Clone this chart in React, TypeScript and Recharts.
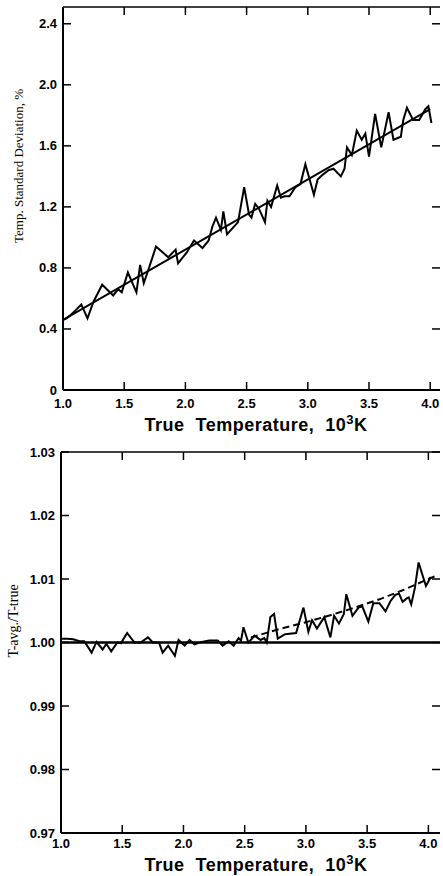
import React from 'react';
import { LineChart, Line, XAxis, YAxis } from 'recharts';

// top panel: temperature standard deviation (%) vs true temperature (10^3 K)
const TOP_TEMPS = [
  1.0, 1.03, 1.06, 1.1, 1.15, 1.2, 1.25, 1.32, 1.41, 1.45, 1.48, 1.53, 1.6, 1.63, 1.66, 1.69,
  1.76, 1.86, 1.92, 1.94, 1.98, 2.01, 2.07, 2.14, 2.19, 2.22, 2.25, 2.29, 2.31, 2.34, 2.43, 2.48,
  2.52, 2.54, 2.57, 2.6, 2.65, 2.67, 2.7, 2.75, 2.78, 2.81, 2.85, 2.9, 2.94, 2.98, 3.05, 3.08,
  3.12, 3.17, 3.21, 3.27, 3.3, 3.32, 3.36, 3.4, 3.44, 3.47, 3.5, 3.55, 3.6, 3.66, 3.7, 3.76,
  3.78, 3.81, 3.86, 3.91, 3.96, 3.985, 4.01,
];
const TOP_SD = [
  0.46, 0.47, 0.49, 0.52, 0.56, 0.47, 0.58, 0.69, 0.62, 0.66, 0.64, 0.77, 0.64, 0.82, 0.7, 0.77,
  0.94, 0.87, 0.92, 0.83, 0.87, 0.9, 0.98, 0.93, 0.98, 1.07, 1.13, 1.05, 1.17, 1.02, 1.1, 1.33,
  1.15, 1.13, 1.22, 1.19, 1.1, 1.24, 1.2, 1.34, 1.26, 1.27, 1.27, 1.33, 1.35, 1.48, 1.28, 1.38,
  1.41, 1.44, 1.45, 1.4, 1.45, 1.59, 1.54, 1.7, 1.64, 1.68, 1.53, 1.81, 1.59, 1.82, 1.64, 1.66,
  1.77, 1.85, 1.77, 1.77, 1.84, 1.86, 1.75,
];
const TOP_FIT_TEMPS = [1.0, 4.0];
const TOP_FIT_SD = [0.46, 1.84];
const X_TICKS = [1.0, 1.5, 2.0, 2.5, 3.0, 3.5, 4.0];
const TOP_Y_TICKS = [0, 0.4, 0.8, 1.2, 1.6, 2.0, 2.4];

// bottom panel: T-avg / T-true
const BOT_TEMPS = [
  1.0, 1.05, 1.1, 1.15, 1.19, 1.25, 1.29, 1.34, 1.37, 1.41, 1.46, 1.49, 1.54, 1.6, 1.65, 1.71,
  1.75, 1.8, 1.83, 1.875, 1.93, 1.96, 2.01, 2.05, 2.09, 2.13, 2.21, 2.28, 2.32, 2.37, 2.41, 2.45,
  2.47, 2.49, 2.53, 2.56, 2.58, 2.63, 2.66, 2.68, 2.71, 2.74, 2.77, 2.83, 2.92, 2.98, 3.02, 3.05,
  3.09, 3.15, 3.2, 3.23, 3.27, 3.31, 3.33, 3.38, 3.43, 3.46, 3.51, 3.55, 3.6, 3.65, 3.69, 3.73,
  3.76, 3.79, 3.82, 3.84, 3.86, 3.89, 3.92, 3.98, 4.02,
];
const BOT_RATIO = [
  1.0006, 1.0006, 1.0005, 1.0002, 1.0002, 0.9984, 1.0001, 0.9989, 0.9998, 0.9986, 1.0, 0.9999,
  1.0015, 1.0, 1.0, 1.0008, 1.0, 1.0, 0.9984, 0.9995, 0.9979, 1.0004, 0.9995, 1.0004, 0.9997,
  1.0, 1.0003, 1.0003, 0.9995, 1.0002, 0.9995, 1.0007, 1.0003, 1.0024, 1.0, 1.0006, 1.0011,
  1.0004, 1.0007, 1.0, 1.004, 1.0045, 1.0006, 1.0013, 1.0015, 1.0055, 1.0017, 1.0035, 1.0022,
  1.004, 1.0008, 1.0042, 1.003, 1.0045, 1.0076, 1.0042, 1.0055, 1.0057, 1.0033, 1.0062, 1.0062,
  1.0049, 1.0065, 1.0075, 1.0077, 1.0064, 1.0069, 1.0071, 1.006, 1.0086, 1.0126, 1.0089, 1.0103,
];
const BOT_UNITY_TEMPS = [1.0, 4.095];
const BOT_UNITY = [1.0, 1.0];
const BOT_FIT_TEMPS = [2.55, 2.8, 3.0, 3.2, 3.4, 3.6, 3.8, 4.0, 4.05];
const BOT_FIT_RATIO = [1.0008, 1.0022, 1.0032, 1.0043, 1.0055, 1.0068, 1.0083, 1.01, 1.0104];
const BOT_Y_TICKS = [0.97, 0.98, 0.99, 1.0, 1.01, 1.02, 1.03];

const zip = (xs: number[], ys: number[]) => xs.map((x, i) => ({ x, y: ys[i] }));

const SANS = '"Liberation Sans", Arial, sans-serif';
const SERIF = '"Liberation Serif", "Times New Roman", serif';

const BottomTick = ({ x, y, payload, fmt, dy }: any) => (
  <g>
    <line x1={x} y1={y} x2={x} y2={y - 8} stroke="#000" strokeWidth={1.5} />
    <text x={x} y={y + dy} textAnchor="middle" fontFamily={SANS} fontWeight="bold" fontSize={13} fill="#000">
      {fmt(payload.value)}
    </text>
  </g>
);
const TopTick = ({ x, y }: any) => (
  <line x1={x} y1={y} x2={x} y2={y + 8} stroke="#000" strokeWidth={1.5} />
);
const LeftTick = ({ x, y, payload, fmt }: any) => (
  <g>
    <line x1={x} y1={y} x2={x + 8} y2={y} stroke="#000" strokeWidth={1.5} />
    <text x={x - 6} y={y + 4.5} textAnchor="end" fontFamily={SANS} fontWeight="bold" fontSize={13} fill="#000">
      {fmt(payload.value)}
    </text>
  </g>
);
const RightTick = ({ x, y }: any) => (
  <line x1={x} y1={y} x2={x - 8} y2={y} stroke="#000" strokeWidth={1.5} />
);

const XTitle = ({ y }: { y: number }) => (
  <text x={256} y={y} textAnchor="middle" fontFamily={SANS} fontWeight="bold" fontSize={18} letterSpacing={0.5} fill="#000" style={{ whiteSpace: 'pre' }}>
    <tspan>{'True  Temperature,  10'}</tspan>
    <tspan dy={-7} fontSize={13}>3</tspan>
    <tspan dy={7}>K</tspan>
  </text>
);
const YTitle = ({ x, y, text, size }: { x: number; y: number; text: string; size: number }) => (
  <text x={x} y={y} transform={`rotate(-90 ${x} ${y})`} textAnchor="middle" fontFamily={SERIF} fontSize={size} fill="#000">
    {text}
  </text>
);

const fmtX = (v: number) => v.toFixed(1);
const fmtTop = (v: number) => (v === 0 ? '0' : v.toFixed(1));
const fmtBot = (v: number) => v.toFixed(2);

const axisCommon = {
  type: 'number' as const,
  allowDataOverflow: true,
  tickSize: 0,
  tickMargin: 0,
  tickLine: false,
};

export default function App() {
  return (
    <div style={{ position: 'absolute', left: 0, top: 0, width: 443, height: 876, background: '#fff' }}>
      <div style={{ position: 'absolute', left: 0, top: 0 }}>
        <LineChart width={443} height={420} margin={{ top: 6, right: 0, bottom: 10, left: 23 }}>
          <XAxis xAxisId="b" dataKey="x" domain={[1, 4.08]} ticks={X_TICKS} height={20} {...axisCommon}
            axisLine={{ stroke: '#000', strokeWidth: 2 }} tick={<BottomTick fmt={fmtX} dy={18} />} />
          <XAxis xAxisId="t" orientation="top" dataKey="x" domain={[1, 4.08]} ticks={X_TICKS} height={1} {...axisCommon}
            axisLine={{ stroke: '#000', strokeWidth: 1.5 }} tick={<TopTick />} />
          <YAxis yAxisId="l" domain={[0, 2.51]} ticks={TOP_Y_TICKS} width={40} {...axisCommon}
            axisLine={{ stroke: '#000', strokeWidth: 2 }} tick={<LeftTick fmt={fmtTop} />} />
          <YAxis yAxisId="r" orientation="right" domain={[0, 2.51]} ticks={TOP_Y_TICKS} width={3} {...axisCommon}
            axisLine={false} tick={<RightTick />} />
          <Line xAxisId="b" yAxisId="l" data={zip(TOP_FIT_TEMPS, TOP_FIT_SD)} dataKey="y" stroke="#000" strokeWidth={2} dot={false} isAnimationActive={false} />
          <Line xAxisId="b" yAxisId="l" data={zip(TOP_TEMPS, TOP_SD)} dataKey="y" stroke="#000" strokeWidth={2} dot={false} isAnimationActive={false} />
        </LineChart>
      </div>
      <div style={{ position: 'absolute', left: 0, top: 440 }}>
        <LineChart width={443} height={436} margin={{ top: 11, right: 0, bottom: 23, left: 21 }}>
          <XAxis xAxisId="b" dataKey="x" domain={[1, 4.095]} ticks={X_TICKS} height={20} {...axisCommon}
            axisLine={{ stroke: '#000', strokeWidth: 2 }} tick={<BottomTick fmt={fmtX} dy={15} />} />
          <XAxis xAxisId="t" orientation="top" dataKey="x" domain={[1, 4.095]} ticks={X_TICKS} height={1} {...axisCommon}
            axisLine={{ stroke: '#000', strokeWidth: 1.5 }} tick={<TopTick />} />
          <YAxis yAxisId="l" domain={[0.97, 1.03]} ticks={BOT_Y_TICKS} width={40} {...axisCommon}
            axisLine={{ stroke: '#000', strokeWidth: 2 }} tick={<LeftTick fmt={fmtBot} />} />
          <YAxis yAxisId="r" orientation="right" domain={[0.97, 1.03]} ticks={BOT_Y_TICKS} width={3} {...axisCommon}
            axisLine={false} tick={<RightTick />} />
          <Line xAxisId="b" yAxisId="l" data={zip(BOT_UNITY_TEMPS, BOT_UNITY)} dataKey="y" stroke="#000" strokeWidth={2.5} dot={false} isAnimationActive={false} />
          <Line xAxisId="b" yAxisId="l" data={zip(BOT_FIT_TEMPS, BOT_FIT_RATIO)} dataKey="y" stroke="#000" strokeWidth={2} strokeDasharray="7 4" dot={false} isAnimationActive={false} />
          <Line xAxisId="b" yAxisId="l" data={zip(BOT_TEMPS, BOT_RATIO)} dataKey="y" stroke="#000" strokeWidth={2} dot={false} isAnimationActive={false} />
        </LineChart>
      </div>
      <svg width={443} height={876} style={{ position: 'absolute', left: 0, top: 0, pointerEvents: 'none' }}>
        <XTitle y={431} />
        <XTitle y={871} />
        <YTitle x={23} y={166} text="Temp. Standard Deviation, %" size={13} />
        <YTitle x={18} y={621} text="T-avg./T-true" size={14} />
      </svg>
    </div>
  );
}
